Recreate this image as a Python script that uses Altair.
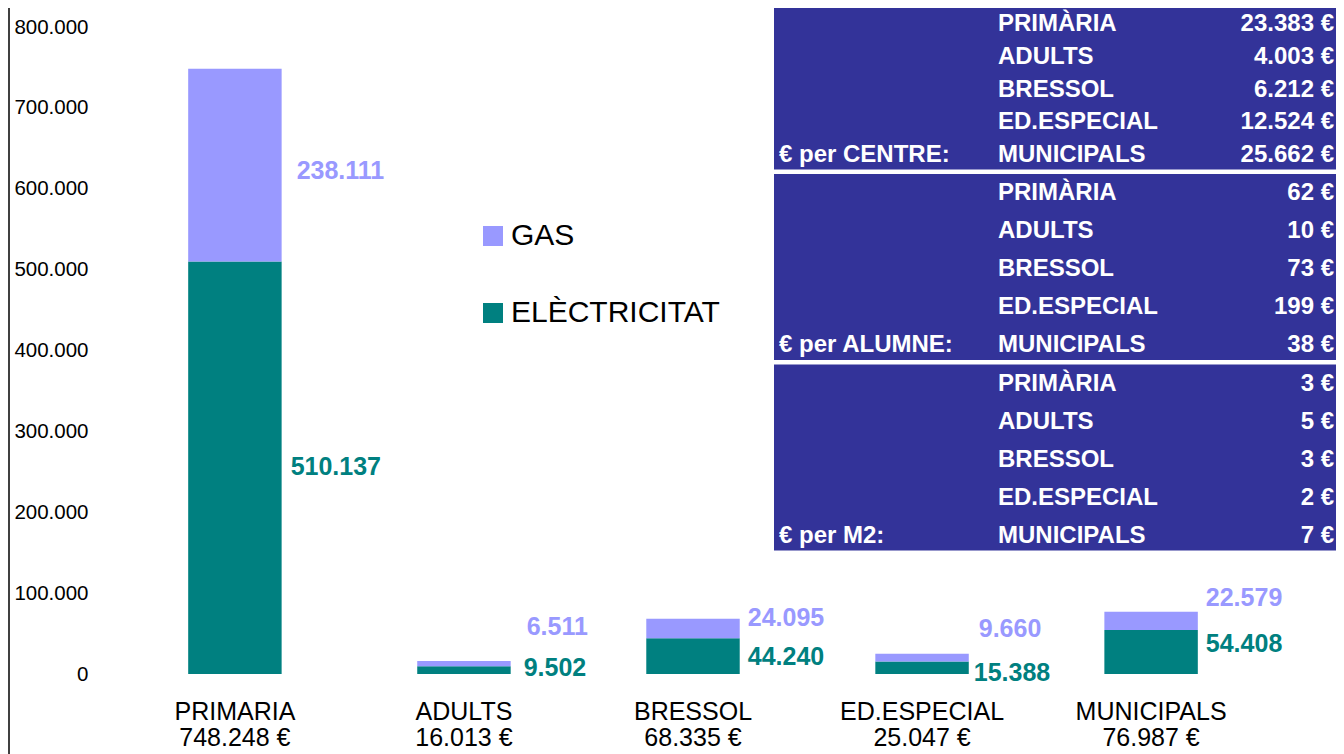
import altair as alt
import pandas as pd

# ---------------- data ----------------
categories = ["PRIMARIA", "ADULTS", "BRESSOL", "ED.ESPECIAL", "MUNICIPALS"]
electricitat = [510137, 9502, 44240, 15388, 54408]
gas = [238111, 6511, 24095, 9660, 22579]
totals_eur = [748248, 16013, 68335, 25047, 76987]
series_names = ["GAS", "ELÈCTRICITAT"]
y_ticks = [0, 100000, 200000, 300000, 400000, 500000, 600000, 700000, 800000]

table_groups = ["€ per CENTRE:", "€ per ALUMNE:", "€ per M2:"]
table_centres = ["PRIMÀRIA", "ADULTS", "BRESSOL", "ED.ESPECIAL", "MUNICIPALS"]
per_centre = [23383, 4003, 6212, 12524, 25662]
per_alumne = [62, 10, 73, 199, 38]
per_m2 = [3, 5, 3, 2, 7]

# ---------------- styling ----------------
series_colors = ["#9999FF", "#008080"]
table_bg = "#333399"
FONT = "Liberation Sans"
# label nudges in pixels (labels were moved by hand in the original)
gas_label_dx = [15, 16, 8, 10, 8]
gas_label_dy = [6, -37, -10, -29, -23]
elec_label_dx = [9, 13, 8, 5, 8]
elec_label_dy = [-1, -2, 1, 5, -8]

W, H = 1186, 647
PAD = {"left": 92, "top": 19, "right": 50, "bottom": 80}

rows = []
for c, e, g in zip(categories, electricitat, gas):
    rows.append({"cat": c, "serie": "ELÈCTRICITAT", "value": e, "ord": 0})
    rows.append({"cat": c, "serie": "GAS", "value": g, "ord": 1})
df = pd.DataFrame(rows)
tot_df = pd.DataFrame({"cat": categories, "total": totals_eur})

trows = []
for b, (grp, vals) in enumerate(zip(table_groups, [per_centre, per_alumne, per_m2])):
    for r, (name, v) in enumerate(zip(table_centres, vals)):
        trows.append({"row": 5 * b + r, "name": name, "value": v,
                      "group": grp if r == 4 else ""})
tdf = pd.DataFrame(trows)
bdf = pd.DataFrame({"b": [0, 1, 2]})

y_scale = alt.Scale(domain=[0, 800000], nice=False, zero=True)
y_axis = alt.Axis(values=y_ticks, format=",d", labelFontSize=20.5, labelPadding=12,
                  domain=False, ticks=False, grid=False, title=None,
                  labelFlush=False, labelOverlap=False, labelColor="#000000",
                  labelFont=FONT)
x_scale = alt.Scale(paddingInner=0.592, paddingOuter=0.385)
x_axis = alt.Axis(labelFontSize=25, labelPadding=37, labelBaseline="middle",
                  domain=False, ticks=False, grid=False, title=None, labelAngle=0,
                  labelColor="#000000", labelFont=FONT, labelLimit=0)

base = alt.Chart(df).transform_stack(
    stack="value", groupby=["cat"], as_=["v0", "v1"],
    sort=[alt.SortField("ord", order="ascending")]
).transform_calculate(mid="(datum.v0 + datum.v1) / 2")

bars = base.mark_bar().encode(
    x=alt.X("cat:N", sort=categories, scale=x_scale, axis=x_axis),
    y=alt.Y("v0:Q", scale=y_scale, axis=y_axis),
    y2="v1:Q",
    color=alt.Color("serie:N",
                    scale=alt.Scale(domain=series_names, range=series_colors),
                    legend=alt.Legend(orient="none", legendX=378, legendY=194,
                                      title=None, symbolType="square",
                                      symbolSize=400, symbolStrokeWidth=0,
                                      labelFontSize=30, labelFont=FONT,
                                      labelColor="#000000", labelOffset=3,
                                      rowPadding=47, labelLimit=400, padding=0)),
)

label_layers = []
for i, c in enumerate(categories):
    for serie, col, dxs, dys in [("GAS", series_colors[0], gas_label_dx, gas_label_dy),
                                 ("ELÈCTRICITAT", series_colors[1], elec_label_dx, elec_label_dy)]:
        label_layers.append(
            base.transform_filter((alt.datum.cat == c) & (alt.datum.serie == serie))
            .mark_text(align="left", baseline="middle", fontWeight="bold", fontSize=25,
                       font=FONT, color=col, dx=dxs[i], dy=dys[i])
            .encode(x=alt.X("cat:N", sort=categories, scale=x_scale, axis=x_axis, bandPosition=1),
                    y=alt.Y("mid:Q", scale=y_scale, axis=y_axis),
                    text=alt.Text("value:Q", format=",.0f"))
        )

totals = alt.Chart(tot_df).mark_text(
    fontSize=25, font=FONT, baseline="middle", color="#000000"
).encode(
    x=alt.X("cat:N", sort=categories, scale=x_scale, axis=x_axis),
    y=alt.value(H + 64),
    text=alt.Text("total:Q", format="$,.0f"),
)

main = alt.layer(bars, *label_layers, totals)

# ---------------- table ----------------
# piecewise row scale: first block is slightly tighter than the other two
row_scale = alt.Scale(domain=[0, 4, 5, 14], range=[-3, 128, 166, 509],
                      nice=False, zero=False)

blocks = alt.Chart(bdf).transform_calculate(
    y0="5 * datum.b - 0.5", y1="5 * datum.b + 4.38"
).mark_rect(color=table_bg).encode(
    x=alt.value(674), x2=alt.value(1260),
    y=alt.Y("y0:Q", scale=row_scale, axis=None), y2="y1:Q",
)
tnames = alt.Chart(tdf).mark_text(
    align="left", baseline="middle", color="white", fontWeight="bold",
    fontSize=24, font=FONT
).encode(x=alt.value(898), y=alt.Y("row:Q", scale=row_scale, axis=None), text="name:N")
tvals = alt.Chart(tdf).mark_text(
    align="right", baseline="middle", color="white", fontWeight="bold",
    fontSize=24, font=FONT
).encode(x=alt.value(1234), y=alt.Y("row:Q", scale=row_scale, axis=None),
         text=alt.Text("value:Q", format="$,.0f"))
tgroups = alt.Chart(tdf).transform_filter(alt.datum.group != "").mark_text(
    align="left", baseline="middle", color="white", fontWeight="bold",
    fontSize=24, font=FONT
).encode(x=alt.value(679), y=alt.Y("row:Q", scale=row_scale, axis=None), text="group:N")

frame = alt.Chart(pd.DataFrame({"a": [0]})).mark_rule(color="#404040", strokeWidth=2).encode(
    x=alt.value(-91), y=alt.value(-19), y2=alt.value(H + 80)
)

table = alt.layer(blocks, tnames, tvals, tgroups, frame)

chart = alt.layer(main, table).resolve_scale(y="independent").properties(
    width=W, height=H,
    autosize=alt.AutoSizeParams(type="none"),
    padding=PAD,
).configure(
    locale={"number": {"decimal": ",", "thousands": ".", "grouping": [3],
                       "currency": ["", " €"]}},
    font=FONT,
).configure_view(stroke=None)

chart.save("out.html", embed_options={"renderer": "svg", "actions": False})
